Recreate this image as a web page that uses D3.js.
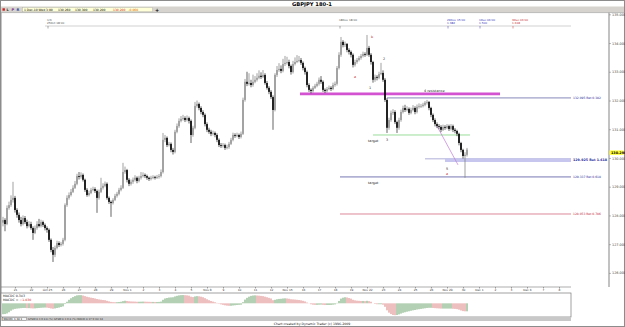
<!DOCTYPE html>
<html>
<head>
<meta charset="utf-8">
<title>GBPJPY 180-1</title>
<script src="https://cdn.jsdelivr.net/npm/d3@7/dist/d3.min.js"></script>
<style>
  html, body { margin: 0; padding: 0; background: #fff; }
  svg { display: block; font-family: "DejaVu Sans", Verdana, sans-serif; }
</style>
</head>
<body>
<svg id="chart" width="625" height="327" viewBox="0 0 625 327"></svg>
<script>
// GBPJPY 180-minute bars (21 Oct - 1 Dec 2010)
const firstOpen = 127.75;
const closes = [
  127.84,127.70,128.26,128.36,128.54,128.61,128.19,128.02,127.84,127.70,
  127.91,127.77,127.63,127.70,127.56,127.39,127.56,127.70,127.63,127.77,
  127.67,127.56,127.50,127.15,126.80,126.63,126.87,127.04,126.97,127.01,
  127.15,128.36,128.61,128.71,128.82,128.96,129.10,129.37,129.34,129.41,
  129.24,128.89,128.71,128.78,128.89,128.92,128.85,128.61,128.82,128.96,
  129.03,129.10,128.61,128.47,128.43,128.54,128.68,128.75,128.89,128.96,
  129.51,129.58,129.24,129.10,129.17,129.24,129.31,129.20,129.31,129.37,
  129.41,129.37,129.31,129.27,129.31,129.34,129.31,129.34,129.37,129.51,
  130.63,130.70,130.45,130.49,130.28,130.21,130.91,131.11,131.29,131.36,
  131.39,131.32,131.39,131.29,130.80,131.05,131.81,131.88,131.74,131.60,
  131.50,131.18,130.98,130.91,130.84,130.87,130.80,130.63,130.45,130.42,
  130.45,130.35,130.38,130.49,130.63,130.80,130.77,130.80,130.73,130.84,
  132.02,132.65,132.58,132.61,132.54,132.65,132.72,132.79,132.86,132.82,
  132.89,132.61,132.44,132.30,132.12,131.67,132.89,133.06,133.10,133.03,
  133.27,133.31,133.34,133.20,132.99,133.27,133.34,133.38,133.41,133.31,
  133.13,132.99,132.54,132.37,132.33,132.44,132.51,132.58,132.72,132.65,
  132.37,132.33,132.40,132.44,132.40,132.54,132.58,133.13,133.59,134.04,
  133.93,133.97,133.76,133.69,133.59,133.24,133.34,133.41,133.48,133.55,
  133.62,133.59,133.83,133.59,133.34,132.72,132.82,132.79,132.92,132.96,
  132.72,132.02,131.05,131.32,131.57,131.60,131.25,131.05,131.32,131.60,
  131.74,131.67,131.71,131.57,131.67,131.74,131.60,131.78,131.81,131.81,
  131.85,131.92,131.95,131.74,131.50,131.32,131.18,131.11,131.08,130.98,
  131.08,131.05,131.11,131.01,131.11,130.98,130.94,130.84,130.52,130.28,
  130.07,130.11,130.29
];
const highs = [
  127.95,127.90,128.35,128.48,128.70,129.17,128.68,128.25,128.10,127.95,
  128.00,127.98,127.85,127.80,127.78,127.62,127.65,127.80,127.88,127.85,
  127.82,127.72,127.62,127.55,127.20,126.90,126.95,127.12,127.10,127.08,
  127.22,128.42,128.70,128.80,128.92,129.05,129.20,129.45,129.51,129.50,
  129.46,129.28,128.95,128.86,128.96,129.00,128.98,128.90,128.90,129.31,
  129.12,129.18,129.15,128.66,128.52,128.60,128.75,128.82,128.96,129.05,
  129.83,129.70,129.62,129.30,129.25,129.32,129.40,129.36,129.38,129.51,
  129.50,129.46,129.42,129.35,129.38,129.40,129.38,129.41,129.44,129.60,
  130.87,130.80,130.75,130.56,130.54,130.35,130.98,131.20,131.38,131.46,
  131.50,131.45,131.48,131.44,131.34,131.12,131.95,132.00,131.93,131.80,
  131.66,131.55,131.24,131.05,130.98,130.95,130.92,130.86,130.68,130.52,
  130.52,130.50,130.46,130.56,130.70,130.88,130.86,130.88,130.85,130.92,
  132.10,132.75,133.00,132.95,132.72,132.90,132.85,132.95,133.05,132.98,
  133.06,132.95,132.68,132.50,132.36,132.18,132.95,133.20,133.30,133.22,
  133.45,133.55,133.52,133.42,133.25,133.38,133.50,133.58,133.55,133.48,
  133.36,133.18,133.04,132.60,132.42,132.50,132.58,132.65,132.80,132.85,
  132.70,132.42,132.47,132.52,132.50,132.62,132.66,133.20,133.68,134.21,
  134.10,134.05,134.00,133.82,133.74,133.64,133.42,133.48,133.55,133.62,
  133.70,133.68,134.28,133.90,133.65,133.38,132.90,132.88,133.00,133.31,
  133.05,132.78,132.08,131.40,131.65,131.70,131.66,131.30,131.40,131.68,
  131.82,131.85,131.80,131.76,131.75,131.84,131.80,131.86,131.90,131.88,
  131.92,131.98,132.02,131.98,131.78,131.55,131.38,131.24,131.18,131.14,
  131.16,131.14,131.18,131.16,131.18,131.16,131.04,130.98,130.88,130.56,
  130.32,130.20,130.35
];
const lows = [
  127.62,127.45,127.66,128.20,128.30,128.45,128.10,127.92,127.75,127.62,
  127.65,127.70,127.55,127.58,127.50,127.15,127.35,127.50,127.58,127.58,
  127.60,127.48,127.40,127.08,126.72,126.38,126.55,126.82,126.90,126.92,
  126.95,127.10,128.30,128.55,128.66,128.78,128.92,129.05,129.25,129.28,
  129.18,128.82,128.65,128.66,128.74,128.84,128.78,128.09,128.55,128.78,
  128.90,128.98,128.55,128.40,127.95,128.38,128.50,128.62,128.70,128.84,
  128.92,129.45,129.15,129.02,129.04,129.10,129.18,129.12,129.15,129.25,
  129.32,129.30,129.24,129.20,129.22,129.26,129.25,129.27,129.28,129.32,
  129.46,130.55,130.38,130.40,130.20,130.12,130.16,130.86,131.05,131.24,
  131.30,131.25,131.27,131.20,130.52,130.74,131.00,131.75,131.66,131.52,
  131.42,131.10,130.90,130.84,130.76,130.78,130.72,130.55,130.38,130.35,
  130.36,130.28,130.30,130.32,130.45,130.58,130.70,130.72,130.66,130.68,
  130.80,131.96,132.50,132.52,132.46,132.48,132.60,132.66,132.74,132.75,
  132.78,132.55,132.38,132.22,132.05,130.98,131.62,132.82,133.00,132.95,
  132.98,133.20,133.25,133.12,132.90,132.94,133.22,133.30,133.33,133.24,
  133.05,132.90,132.46,132.30,132.25,132.28,132.40,132.46,132.52,132.58,
  132.30,132.26,132.28,132.36,132.33,132.36,132.48,132.52,133.08,133.52,
  133.85,133.86,133.68,133.60,133.50,133.15,133.18,133.28,133.36,133.42,
  133.50,133.52,133.55,133.52,133.25,132.62,132.65,132.70,132.74,132.88,
  132.65,131.95,130.87,130.98,131.26,131.50,131.18,130.87,130.98,131.26,
  131.55,131.60,131.62,131.50,131.52,131.62,131.52,131.55,131.72,131.74,
  131.76,131.80,131.86,131.66,131.42,131.25,131.10,131.04,131.00,130.90,
  130.94,130.98,131.00,130.94,130.96,130.90,130.86,130.76,130.44,130.20,
  129.98,129.31,130.05
];
// MACDC histogram, one value per bar
const macdValues = [
  -1.40,-1.38,-1.30,-1.15,-0.95,-0.80,-0.72,-0.68,-0.65,-0.62,
  -0.60,-0.60,-0.62,-0.62,-0.64,-0.66,-0.65,-0.62,-0.60,-0.58,
  -0.56,-0.55,-0.56,-0.60,-0.66,-0.70,-0.66,-0.60,-0.55,-0.48,
  -0.40,-0.10,0.20,0.45,0.65,0.80,0.92,1.02,1.05,1.05,
  1.00,0.92,0.84,0.78,0.72,0.68,0.62,0.55,0.50,0.46,
  0.42,0.40,0.32,0.25,0.18,0.15,0.14,0.15,0.17,0.20,
  0.28,0.33,0.30,0.26,0.24,0.23,0.22,0.20,0.20,0.21,
  0.22,0.21,0.20,0.19,0.18,0.18,0.17,0.17,0.18,0.22,
  0.45,0.62,0.68,0.74,0.76,0.78,0.88,0.96,1.02,1.05,
  1.06,1.04,1.02,0.98,0.85,0.80,0.88,0.92,0.90,0.85,
  0.78,0.66,0.52,0.40,0.30,0.22,0.14,0.05,-0.06,-0.14,
  -0.20,-0.26,-0.30,-0.32,-0.32,-0.28,-0.25,-0.22,-0.20,-0.18,
  0.15,0.48,0.70,0.85,0.95,1.00,1.02,1.00,0.98,0.95,
  0.92,0.85,0.78,0.70,0.62,0.40,0.45,0.52,0.56,0.58,
  0.62,0.64,0.62,0.58,0.52,0.50,0.48,0.45,0.42,0.38,
  0.32,0.24,0.10,-0.02,-0.12,-0.18,-0.20,-0.20,-0.18,-0.17,
  -0.20,-0.22,-0.22,-0.22,-0.21,-0.18,-0.14,0.05,0.30,0.60,
  0.72,0.78,0.75,0.68,0.60,0.45,0.38,0.34,0.32,0.30,
  0.30,0.28,0.32,0.28,0.20,0.00,-0.08,-0.12,-0.12,-0.12,
  -0.18,-0.45,-0.90,-1.20,-1.38,-1.50,-1.52,-1.50,-1.42,-1.32,
  -1.22,-1.15,-1.08,-1.02,-0.96,-0.90,-0.86,-0.80,-0.76,-0.72,
  -0.68,-0.64,-0.60,-0.58,-0.58,-0.60,-0.62,-0.64,-0.66,-0.68,
  -0.68,-0.68,-0.68,-0.68,-0.68,-0.70,-0.72,-0.75,-0.82,-0.92,
  -1.00,-1.03,-1.03
];

const priceTicks = [135, 134, 133, 132, 131, 130, 129, 128, 127, 126];
const dayLabels = ["21","22","Oct 25","26","27","28","29","Nov 1","2","3","4","5",
  "Nov 8","9","10","11","12","Nov 15","16","17","18","19","Nov 22","23","24","25","26",
  "Nov 29","30","Dec 1","2","3","Dec 6","7","8"];

// horizontal studies: price, first bar, last bar, label
const levelPrices = [132.23, 132.09, 130.80, 129.97, 129.92, 129.34, 128.05];
const levelStart  = [148.5, 192, 185, 211, 221, 168.5, 168.5];
const levelEnd    = [248.5, 284, 233.5, 284, 284, 284, 284];
const levelLabels = ["", "132.095 Ret 0.382", "", "", "129.925 Ret 1.618", "129.337 Ret 0.618", "128.053 Ret 0.786"];

// time projection markers on the top line
const timeBars   = [22.5, 168.5, 222.5, 238.5, 255];
const timeLine1  = ["1/3", "18Nov 18:00", "29Nov 15:00", "1Dec 06:00", "3Dec 03:00"];
const timeLine2  = ["25Oct 18:00", "", "1.382", "1.500", "1.618"];

// wave labels
const noteBars   = [184, 175.5, 183, 190, 191.5, 182.5, 182.5, 210.5, 221.5, 221.5];
const notePrices = [134.18, 132.80, 132.40, 133.41, 130.59, 130.57, 129.10, 132.28, 129.58, 129.41];
const noteTexts  = ["b", "a", "1", "2", "3", "target", "target", "4  resistance", "5", "a"];
const noteRed    = [true, true, false, false, false, false, false, false, false, true];

const W = 625, H = 327;
const svg = d3.select("#chart");

const x = d3.scaleLinear().domain([0, 284]).range([3, 571]);
const y = d3.scaleLinear().domain([126, 135]).range([272.9, 14.3]);
const ym = d3.scaleLinear().domain([-1.5, 1.5]).range([315, 291.6]);

const bars = closes.map((c, i) => ({
  i, c, o: i ? closes[i - 1] : firstOpen, h: highs[i], l: lows[i]
}));

// ---- window chrome ----
svg.append("rect").attr("width", W).attr("height", H).attr("fill", "#fff");
svg.append("rect").attr("x", 0.5).attr("y", 0.5).attr("width", W - 1).attr("height", H - 1)
  .attr("fill", "none").attr("stroke", "#8c8c8c");

svg.append("text").attr("x", 312).attr("y", 5.6).attr("text-anchor", "middle")
  .attr("font-size", 5.2).attr("font-weight", 700).attr("fill", "#000").text("GBPJPY 180-1");

svg.append("rect").attr("x", 1).attr("y", 6.5).attr("width", W - 2).attr("height", 6)
  .attr("fill", "#d6d3ce");
svg.append("line").attr("x1", 1).attr("x2", W - 1).attr("y1", 12.6).attr("y2", 12.6)
  .attr("stroke", "#9a9a9a").attr("stroke-width", 0.6);

svg.append("rect").attr("x", 2.5).attr("y", 8.3).attr("width", 2.4).attr("height", 2.4).attr("fill", "#d02020");
[["L", 6.5, "#303030"], ["P", 11.5, "#7a2a8a"], ["R", 16.5, "#2040a0"]].forEach(([t, tx, col]) => {
  svg.append("text").attr("x", tx).attr("y", 11.2).attr("font-size", 3.6).attr("font-weight", 700)
    .attr("fill", col).text(t);
});

svg.append("rect").attr("x", 22.5).attr("y", 7.4).attr("width", 130).attr("height", 4.4)
  .attr("fill", "#ffffd8").attr("stroke", "#a8a8a8").attr("stroke-width", 0.4);
[["1 Dec-10 Wed 3:00", 24, "#000"], ["130.260", 58, "#000"], ["130.300", 75, "#000"],
 ["130.200", 93, "#000"], ["130.200", 113, "#d02020"], ["-0.060", 128.5, "#e06000"]].forEach(([t, tx, col]) => {
  svg.append("text").attr("x", tx).attr("y", 10.7).attr("font-size", 3.0).attr("fill", col).text(t);
});
svg.append("text").attr("x", 157).attr("y", 11.6).attr("text-anchor", "middle")
  .attr("font-size", 5).attr("font-weight", 700).text("+");

// ---- main panel frame ----
svg.append("line").attr("x1", 1).attr("x2", 1).attr("y1", 12.6).attr("y2", 321).attr("stroke", "#8c8c8c");
svg.append("line").attr("x1", 609).attr("x2", 609).attr("y1", 12.6).attr("y2", 287)
  .attr("stroke", "#a8a8a8").attr("stroke-width", 1.4);

// price axis
const yAxis = svg.append("g").attr("transform", "translate(609,0)")
  .call(d3.axisRight(y).tickValues(priceTicks).tickSize(2).tickFormat(d3.format(".3f")));
yAxis.select(".domain").remove();
yAxis.selectAll(".tick line").attr("stroke", "#777").attr("stroke-width", 0.5);
yAxis.selectAll(".tick text").attr("x", 3).attr("font-size", 3.4).attr("fill", "#444")
  .attr("font-family", "DejaVu Sans, sans-serif");

// top time-projection line
svg.append("line").attr("x1", x(timeBars[0]) - 3).attr("x2", 571).attr("y1", 26).attr("y2", 26)
  .attr("stroke", "#b4b4b4").attr("stroke-width", 0.6);
timeBars.forEach((b, k) => {
  const col = k < 2 ? "#555" : (k < 4 ? "#3838c0" : "#c83030");
  svg.append("line").attr("x1", x(b)).attr("x2", x(b)).attr("y1", 26).attr("y2", 28.5)
    .attr("stroke", col).attr("stroke-width", 0.5);
  svg.append("text").attr("x", x(b) - 1).attr("y", 21.2).attr("font-size", 2.8).attr("fill", col).text(timeLine1[k]);
  if (timeLine2[k]) svg.append("text").attr("x", x(b) - 1).attr("y", 24.4).attr("font-size", 2.8)
    .attr("fill", col).text(timeLine2[k]);
});

// ---- horizontal studies ----
const levelStyle = [
  { col: "#d252d2", w: 2.6 }, { col: "#6a6aaa", w: 0.8 }, { col: "#8ed88e", w: 0.9 },
  { col: "#9a9ad0", w: 0.8 }, { col: "#c6c6ee", w: 3.4 }, { col: "#5656a2", w: 0.8 },
  { col: "#d46a7c", w: 0.8 }
];
levelPrices.forEach((p, k) => {
  svg.append("line").attr("x1", x(levelStart[k])).attr("x2", x(levelEnd[k]))
    .attr("y1", y(p)).attr("y2", y(p))
    .attr("stroke", levelStyle[k].col).attr("stroke-width", levelStyle[k].w);
  if (levelLabels[k]) {
    const big = levelStyle[k].w > 2;
    svg.append("text").attr("x", 573).attr("y", y(p) + 1.1)
      .attr("font-size", big ? 3.3 : 3).attr("font-weight", big ? 700 : 400)
      .attr("fill", k === 6 ? "#c02838" : "#2a2a9a").text(levelLabels[k]);
  }
});

// diagonal trend line
svg.append("line").attr("x1", x(217)).attr("y1", y(131.11)).attr("x2", x(227.5)).attr("y2", y(129.76))
  .attr("stroke", "#c07ad8").attr("stroke-width", 0.7);

// ---- candles ----
const cg = svg.append("g");
cg.selectAll("line.wick").data(bars).join("line").attr("class", "wick")
  .attr("x1", d => x(d.i)).attr("x2", d => x(d.i))
  .attr("y1", d => y(d.h)).attr("y2", d => y(d.l))
  .attr("stroke", d => d.c >= d.o ? "#7a7a7a" : "#222").attr("stroke-width", 0.7);
cg.selectAll("rect.body").data(bars).join("rect").attr("class", "body")
  .attr("x", d => x(d.i) - 0.8).attr("width", 1.6)
  .attr("y", d => y(Math.max(d.o, d.c)))
  .attr("height", d => Math.max(0.7, Math.abs(y(d.o) - y(d.c))))
  .attr("fill", d => d.c >= d.o ? "#989898" : "#000");

// current price box
const last = closes[closes.length - 1];
svg.append("rect").attr("x", 609.5).attr("y", y(last) + 0.8).attr("width", 14).attr("height", 4.4)
  .attr("fill", "#ffff30");
svg.append("text").attr("x", 611).attr("y", y(last) + 4.2).attr("font-size", 3.4)
  .attr("font-weight", 700).attr("fill", "#000").text(d3.format(".3f")(last));

// wave notes
noteTexts.forEach((t, k) => {
  svg.append("text").attr("x", x(noteBars[k])).attr("y", y(notePrices[k]))
    .attr("font-size", 3.4).attr("fill", noteRed[k] ? "#c02020" : "#222").text(t);
});

// ---- date strip ----
const dayBars = dayLabels.map((_, k) => 6 + 8 * k);
svg.append("line").attr("x1", 1).attr("x2", 571).attr("y1", 287).attr("y2", 287)
  .attr("stroke", "#777").attr("stroke-width", 0.6);
const xAxis = svg.append("g").attr("transform", "translate(0,287)")
  .call(d3.axisBottom(x).tickValues(dayBars).tickSize(1.5).tickFormat((d, k) => dayLabels[k]));
xAxis.select(".domain").remove();
xAxis.selectAll(".tick line").attr("stroke", "#555").attr("stroke-width", 0.5);
xAxis.selectAll(".tick text").attr("y", 2.2).attr("font-size", 2.9).attr("fill", "#333")
  .attr("font-family", "DejaVu Sans, sans-serif");

// ---- MACDC panel ----
svg.append("rect").attr("x", 1).attr("y", 293).attr("width", 570).attr("height", 24)
  .attr("fill", "#fff").attr("stroke", "#7a7a7a").attr("stroke-width", 0.7);
svg.append("g").selectAll("rect").data(macdValues).join("rect")
  .attr("x", (v, i) => x(i) - 0.55).attr("width", 1.1)
  .attr("y", v => Math.min(ym(v), ym(0)))
  .attr("height", v => Math.abs(ym(v) - ym(0)))
  .attr("fill", (v, i) => (i && v < macdValues[i - 1]) ? "#e08c8c" : "#78ab78");
svg.append("text").attr("x", 3).attr("y", 297).attr("font-size", 3.2).attr("fill", "#222").text("MACDC  0.343");
const mt = svg.append("text").attr("x", 3).attr("y", 300.8).attr("font-size", 3.2).attr("fill", "#222");
mt.append("tspan").text("MACDC = ");
mt.append("tspan").attr("fill", "#d02020").text(d3.format(".3f")(macdValues[macdValues.length - 1]));

// bottom tab strip
svg.append("rect").attr("x", 1).attr("y", 317).attr("width", 570).attr("height", 4).attr("fill", "#c8c8c8");
svg.append("rect").attr("x", 2.5).attr("y", 317.4).attr("width", 24).attr("height", 3.2)
  .attr("fill", "#f4f4f4").attr("stroke", "#666").attr("stroke-width", 0.4);
svg.append("text").attr("x", 3.5).attr("y", 320).attr("font-size", 2.6).text("MACDC 1.34 1");
svg.append("text").attr("x", 28).attr("y", 320).attr("font-size", 2.6).attr("fill", "#333")
  .text("GTSM 8 3 0 8 8 (%) GTSM 8 3 0 8 (%) MACD 8 17 9 Vol 14");

svg.append("text").attr("x", 312).attr("y", 325.4).attr("text-anchor", "middle")
  .attr("font-size", 3.2).attr("fill", "#222").text("Chart created by Dynamic Trader  (c) 1996-2009");
</script>
</body>
</html>
